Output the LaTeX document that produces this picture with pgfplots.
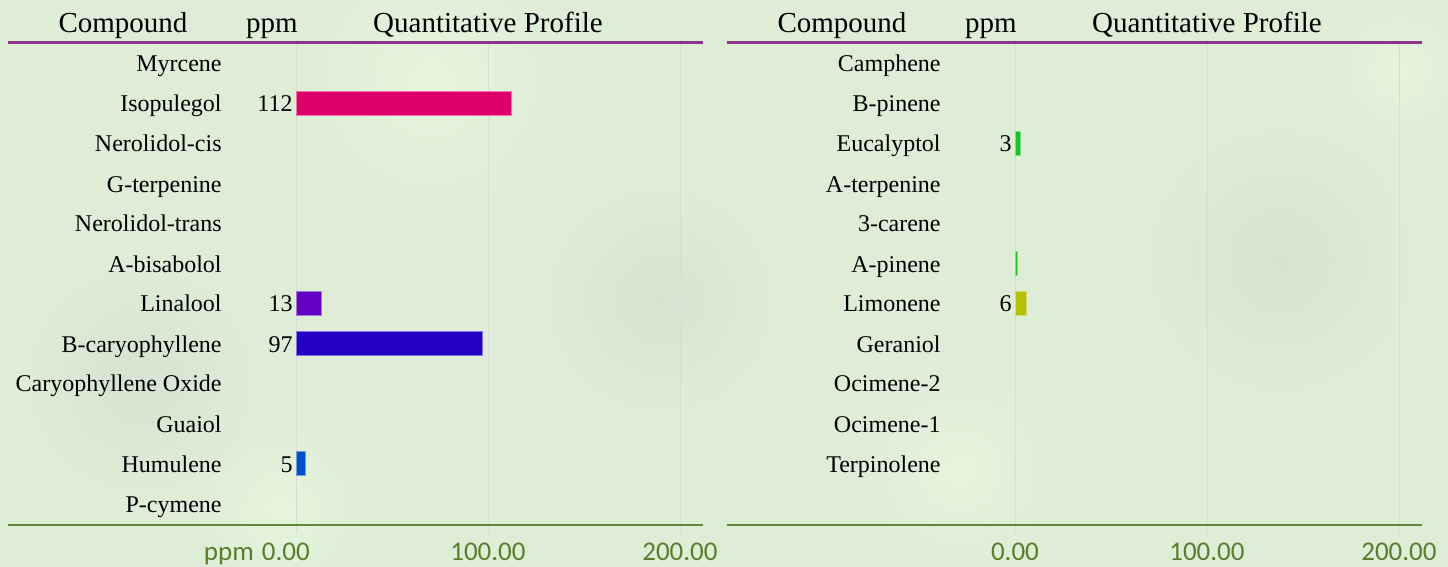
\documentclass[border=0pt]{standalone}
\usepackage{pgfplots}
\pgfplotsset{compat=1.18}
\usepackage{fontspec}
\setmainfont{Liberation Serif}
\newfontfamily\tickfont{Carlito}
\definecolor{bg}{RGB}{221,237,214}
\definecolor{bglight}{RGB}{230,245,220}
\definecolor{bgdark}{RGB}{212,228,208}
\definecolor{tickgreen}{RGB}{88,128,44}
\definecolor{linegreen}{RGB}{96,136,56}
\definecolor{toppurple}{RGB}{140,52,140}
\definecolor{cIso}{RGB}{224,0,106}
\definecolor{cLin}{RGB}{98,0,196}
\definecolor{cBcar}{RGB}{36,0,196}
\definecolor{cHum}{RGB}{0,82,204}
\definecolor{cEuc}{RGB}{18,196,36}
\definecolor{cApin}{RGB}{30,196,30}
\definecolor{cLim}{RGB}{180,192,0}

\pgfplotsset{
  panel/.style={
    width=347.5pt, height=245pt, scale only axis,
    anchor=north west,
    xmin=-150, xmax=212, ymin=-11.75, ymax=0.5,
    axis line style={draw=none}, major tick length=0pt,
    xtick={0,100,200},
    xmajorgrids, grid style={draw=black!14, line width=0.4pt},
    ytick pos=left, xtick pos=bottom,
    yticklabel style={anchor=base east, inner sep=0pt, xshift=107pt, yshift=-4.5pt,
       font=\fontsize{12}{14}\selectfont},
    xticklabel style={anchor=north, inner sep=0pt, yshift=-4.8pt,
       font=\tickfont\fontsize{13.5}{15}\selectfont, text=tickgreen},
    clip=false,
  },
  onebar/.style={xbar, bar shift=0pt, bar width=12pt, fill=#1, draw=#1!55!white, line width=0.4pt},
  vals/.style={only marks, mark size=0pt, nodes near coords, point meta=explicit symbolic,
     every node near coord/.append style={anchor=base east, inner sep=0pt, xshift=-1.5pt, yshift=-4.5pt,
       font=\fontsize{12}{14}\selectfont, text=black}},
}

\pgfplotstableread{
x y
112 -1
}\tIso
\pgfplotstableread{
x y
13 -6
}\tLin
\pgfplotstableread{
x y
97 -7
}\tBcar
\pgfplotstableread{
x y
5 -10
}\tHum
\pgfplotstableread{
x y
3 -2
}\tEuc
\pgfplotstableread{
x y
1.5 -5
}\tApin
\pgfplotstableread{
x y
6 -6
}\tLim

\begin{document}
\begin{tikzpicture}
% background
\fill[bg] (0,0) rectangle (724pt,-283.5pt);
\shade[inner color=bglight, outer color=bg] (215pt,-40pt) circle (70pt);
\shade[inner color=bglight, outer color=bg] (140pt,-255pt) circle (45pt);
\shade[inner color=bgdark, outer color=bg] (70pt,-190pt) circle (60pt);
\shade[inner color=bgdark, outer color=bg] (330pt,-150pt) circle (60pt);
\shade[inner color=bglight, outer color=bg] (480pt,-235pt) circle (50pt);
\shade[inner color=bgdark, outer color=bg] (640pt,-130pt) circle (70pt);
\shade[inner color=bglight, outer color=bg] (700pt,-35pt) circle (35pt);

% headers
\begin{scope}[every node/.style={anchor=base, inner sep=0pt, font=\fontsize{14.5}{17}\selectfont}]
\node at (61.5pt,-16.5pt) {Compound};
\node at (136pt,-16.5pt) {ppm};
\node at (244pt,-16.5pt) {Quantitative Profile};
\node at (421pt,-16.5pt) {Compound};
\node at (495.5pt,-16.5pt) {ppm};
\node at (603.5pt,-16.5pt) {Quantitative Profile};
\end{scope}

% left panel
\begin{axis}[panel, at={(4pt,-21.5pt)},
  xticklabels={{\rlap{\kern-46pt ppm\kern4pt 0.00}},100.00,200.00},
  ytick={0,-1,-2,-3,-4,-5,-6,-7,-8,-9,-10,-11},
  yticklabels={Myrcene,Isopulegol,Nerolidol-cis,G-terpenine,Nerolidol-trans,A-bisabolol,Linalool,B-caryophyllene,Caryophyllene Oxide,Guaiol,Humulene,P-cymene},
]
\draw[toppurple, line width=1.5pt] (axis cs:-150,0.5) -- (axis cs:212,0.5);
\draw[linegreen, line width=1.1pt] (axis cs:-150,-11.55) -- (axis cs:212,-11.55);
\addplot[onebar=cIso] table[x=x,y=y] {\tIso};
\addplot[onebar=cLin] table[x=x,y=y] {\tLin};
\addplot[onebar=cBcar] table[x=x,y=y] {\tBcar};
\addplot[onebar=cHum] table[x=x,y=y] {\tHum};
\addplot[vals] coordinates {(0,-1) [112] (0,-6) [13] (0,-7) [97] (0,-10) [5]};
\end{axis}

% right panel
\begin{axis}[panel, at={(363.5pt,-21.5pt)},
  xticklabels={0.00,100.00,200.00},
  ytick={0,-1,-2,-3,-4,-5,-6,-7,-8,-9,-10},
  yticklabels={Camphene,B-pinene,Eucalyptol,A-terpenine,3-carene,A-pinene,Limonene,Geraniol,Ocimene-2,Ocimene-1,Terpinolene},
]
\draw[toppurple, line width=1.5pt] (axis cs:-150,0.5) -- (axis cs:212,0.5);
\draw[linegreen, line width=1.1pt] (axis cs:-150,-11.55) -- (axis cs:212,-11.55);
\addplot[onebar=cEuc] table[x=x,y=y] {\tEuc};
\addplot[onebar=cApin] table[x=x,y=y] {\tApin};
\addplot[onebar=cLim] table[x=x,y=y] {\tLim};
\addplot[vals] coordinates {(0,-2) [3] (0,-6) [6]};
\end{axis}

\pgfresetboundingbox
\path (0,0) rectangle (724pt,-283.5pt);
\end{tikzpicture}
\end{document}
